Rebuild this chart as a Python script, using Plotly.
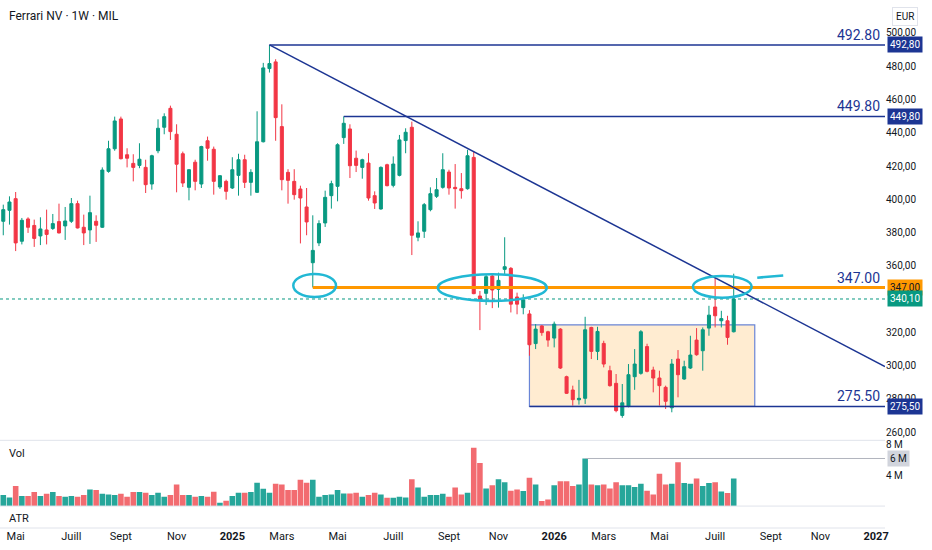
import pandas as pd
import plotly.graph_objects as go
from plotly.subplots import make_subplots

# weekly candles, first bar = week of 2024-04-15
first_week = '2024-04-15'
opens = [386.8, 393.4, 400.4, 374.8, 388.2, 384.3, 378.0, 381.6, 382.5, 386.6,
         384.0, 386.8, 397.4, 383.2, 381.6, 386.8, 383.2, 416.8, 430.4, 448.3,
         426.8, 421.6, 420.4, 419.2, 409.2, 429.2, 443.3, 454.7, 439.1, 427.4,
         407.2, 422.3, 409.2, 435.2, 430.1, 407.4, 410.8, 406.8, 414.4, 423.8,
         410.2, 404.2, 434.6, 478.6, 482.6, 443.7, 416.2, 410.8, 406.2, 395.4,
         361.9, 373.8, 385.8, 402.2, 407.8, 437.1, 442.3, 424.7, 419.2, 421.8,
         402.2, 394.2, 420.8, 408.4, 414.4, 435.3, 443.3, 377.2, 380.8, 393.8,
         401.8, 407.2, 416.4, 407.2, 406.4, 406.4, 425.2, 341.9, 343.5, 353.9,
         345.9, 357.9, 358.5, 341.3, 334.9, 331.1, 313.3, 323.9, 320.4, 316.6,
         322.0, 293.4, 285.4, 279.5, 280.4, 323.0, 308.6, 313.4, 297.0, 289.4,
         270.1, 275.5, 293.4, 295.4, 311.5, 297.4, 292.6, 287.0, 274.7, 304.0,
         292.0, 298.6, 315.4, 309.0, 322.6, 335.3, 327.0, 327.0, 320.4]
highs = [396.8, 401.8, 404.4, 388.8, 389.2, 387.8, 389.2, 393.8, 391.2, 397.4,
         395.4, 400.8, 399.2, 390.8, 402.2, 390.4, 419.2, 435.2, 449.7, 449.7,
         430.7, 427.1, 433.7, 423.8, 426.8, 448.1, 451.7, 456.3, 445.1, 428.7,
         418.1, 423.8, 432.2, 437.7, 431.7, 414.5, 411.8, 425.3, 427.4, 426.8,
         418.1, 452.9, 482.0, 492.8, 484.2, 457.1, 418.1, 418.1, 408.2, 406.8,
         390.4, 387.4, 405.2, 411.2, 433.7, 449.8, 445.1, 429.3, 424.4, 427.7,
         404.8, 419.8, 421.4, 425.8, 438.7, 442.7, 446.7, 386.8, 397.8, 407.2,
         412.8, 427.7, 417.8, 421.2, 415.8, 429.8, 428.7, 344.9, 355.0, 355.0,
         355.9, 377.2, 359.3, 343.9, 342.9, 333.4, 325.0, 324.4, 321.0, 326.5,
         322.6, 294.0, 288.0, 291.5, 329.4, 323.4, 323.4, 315.0, 300.0, 295.0,
         289.0, 301.0, 310.0, 321.4, 313.2, 299.4, 297.0, 288.0, 304.0, 309.4,
         303.0, 318.0, 322.6, 323.0, 336.0, 352.9, 333.0, 330.0, 355.3]
lows = [378.4, 384.8, 368.9, 372.9, 379.8, 371.4, 372.5, 372.9, 381.6, 379.5,
        375.6, 385.8, 382.5, 372.5, 373.2, 374.4, 382.8, 416.0, 429.2, 424.0,
        419.2, 410.8, 418.7, 403.8, 405.8, 427.7, 439.1, 435.7, 404.2, 407.4,
        399.4, 405.4, 406.8, 423.2, 402.8, 406.2, 399.8, 406.2, 402.2, 406.8,
        402.2, 403.8, 434.2, 476.2, 435.2, 405.4, 397.4, 399.8, 373.5, 378.4,
        347.0, 371.9, 383.4, 394.4, 398.8, 433.3, 412.8, 416.4, 412.4, 399.2,
        394.2, 393.8, 407.8, 407.2, 413.8, 427.7, 366.5, 374.8, 376.8, 392.8,
        400.8, 406.4, 402.8, 394.4, 400.4, 405.8, 343.0, 321.4, 336.5, 334.6,
        334.9, 355.0, 332.0, 330.9, 330.9, 306.0, 310.0, 318.0, 311.4, 311.0,
        298.0, 283.0, 276.0, 276.6, 277.0, 304.0, 303.4, 299.0, 287.4, 272.0,
        268.7, 275.0, 285.5, 294.6, 296.0, 284.0, 276.0, 274.0, 272.0, 281.0,
        291.5, 298.0, 306.0, 297.0, 318.0, 323.0, 323.0, 312.6, 320.0]
closes = [393.8, 398.4, 373.8, 387.4, 383.2, 376.5, 382.2, 378.9, 385.4, 379.8,
          387.0, 397.4, 382.8, 379.8, 392.0, 384.4, 417.6, 430.4, 447.1, 424.4,
          424.7, 419.2, 424.1, 408.8, 426.2, 442.7, 449.7, 440.7, 421.1, 409.8,
          417.8, 410.8, 431.7, 430.7, 410.8, 414.2, 404.8, 417.8, 423.8, 410.2,
          416.2, 434.6, 479.0, 481.6, 449.1, 411.8, 411.4, 402.8, 400.8, 386.4,
          369.3, 385.4, 401.2, 409.4, 432.8, 445.7, 420.2, 420.4, 423.8, 400.8,
          397.8, 419.2, 408.2, 421.2, 435.7, 440.3, 378.4, 379.8, 396.8, 403.4,
          405.8, 417.8, 406.8, 406.4, 405.2, 426.2, 343.3, 339.5, 353.5, 345.5,
          351.3, 359.5, 337.0, 337.0, 339.5, 312.6, 322.0, 319.9, 315.4, 325.0,
          298.6, 283.4, 279.6, 280.4, 321.6, 308.6, 320.6, 301.0, 288.0, 273.0,
          277.7, 294.6, 301.0, 320.4, 296.6, 292.6, 288.0, 278.6, 301.0, 294.6,
          299.4, 306.4, 306.6, 321.6, 330.4, 330.0, 328.3, 317.0, 340.1]
volume_m = [1.43, 1.13, 2.6, 1.3, 1.3, 1.82, 1.3, 1.6, 1.82, 1.3,
            1.21, 1.3, 1.21, 1.43, 2.16, 2.08, 1.6, 1.52, 1.43, 1.6,
            1.21, 1.82, 1.82, 1.73, 1.43, 1.73, 1.21, 1.43, 2.81, 1.43,
            1.43, 1.21, 1.3, 1.21, 1.86, 0.43, 0.69, 1.3, 1.73, 1.73,
            1.82, 3.03, 2.25, 1.73, 2.9, 2.81, 2.08, 2.08, 3.42, 3.03,
            3.42, 1.21, 1.43, 1.52, 2.08, 1.65, 1.65, 1.73, 1.21, 1.43,
            1.73, 1.52, 1.08, 1.08, 1.21, 1.13, 3.5, 2.42, 1.21, 1.43,
            1.43, 1.6, 1.21, 2.42, 1.52, 1.73, 7.6, 5.6, 2.3, 2.7,
            3.5, 3.1, 2.0, 2.16, 1.95, 3.7, 2.8, 0.65, 0.87, 2.7,
            3.25, 3.25, 2.6, 2.8, 6.2, 2.8, 2.7, 2.8, 2.3, 3.1,
            2.7, 2.7, 2.5, 2.9, 2.0, 1.5, 4.2, 2.8, 2.9, 5.7,
            3.0, 2.9, 3.6, 2.6, 3.0, 3.1, 1.9, 1.7, 3.6]

# drawn levels
top_level = 492.80
mid_level = 449.80
support_level = 347.00
low_level = 275.50
last_price = 340.10
box_top = 324.6
trend_end = 299.5
vol_ray = 6.2

month_names = {3: 'Mars', 5: 'Mai', 7: 'Juill', 9: 'Sept', 11: 'Nov'}

GREEN = '#089981'
RED = '#f23645'
NAVY = '#1c3593'
CYAN = '#22b8d4'
TXT = '#131722'

start = pd.Timestamp(first_week)
dates = pd.date_range(start, periods=len(closes), freq='7D')


def at(i):
    # date of (fractional, 1-based) bar position
    return (start + pd.Timedelta(weeks=i - 1)).strftime('%Y-%m-%d %H:%M')


x_left, x_right = at(0.47), at(143.44)

fig = make_subplots(rows=3, cols=1, shared_xaxes=True, vertical_spacing=0)

fig.add_trace(go.Candlestick(
    x=dates, open=opens, high=highs, low=lows, close=closes,
    increasing=dict(line=dict(color=GREEN, width=1), fillcolor=GREEN),
    decreasing=dict(line=dict(color=RED, width=1), fillcolor=RED),
    whiskerwidth=0, showlegend=False, hoverinfo='skip'), row=1, col=1)

vol_colors = ['#26a69a' if c >= o else '#f26b70' for o, c in zip(opens, closes)]
fig.add_trace(go.Bar(x=dates, y=volume_m, marker_color=vol_colors,
                     marker_line_width=0, showlegend=False, hoverinfo='skip'),
              row=2, col=1)
fig.add_trace(go.Scatter(x=[x_left, x_right], y=[0, 0], mode='lines',
                         line=dict(width=0), showlegend=False, hoverinfo='skip'),
              row=3, col=1)

# tick positions: Monday of the week holding each month start
tickvals, ticktext = [], []
for m in pd.date_range('2024-05-01', '2027-01-01', freq='2MS'):
    monday = m - pd.Timedelta(days=m.weekday())
    tickvals.append(monday)
    ticktext.append(f'<b>{m.year}</b>' if m.month == 1 else month_names[m.month])

shapes = []
# horizontal rays
for lvl, i0, col, w in [(top_level, 44, NAVY, 1.5), (mid_level, 56, NAVY, 1.5),
                        (low_level, 86, NAVY, 1.5), (support_level, 51, '#ff9800', 3)]:
    shapes.append(dict(type='line', xref='x', yref='y', x0=at(i0), x1=x_right,
                       y0=lvl, y1=lvl, line=dict(color=col, width=w)))
# last price dotted
shapes.append(dict(type='line', xref='x', yref='y', x0=x_left, x1=x_right,
                   y0=last_price, y1=last_price,
                   line=dict(color=GREEN, width=1, dash='dot')))
# trend line
shapes.append(dict(type='line', xref='x', yref='y', x0=at(44), x1=x_right,
                   y0=top_level, y1=trend_end, line=dict(color=NAVY, width=1.5)))
# range box
shapes.append(dict(type='rect', xref='x', yref='y', x0=at(86), x1=at(122.4),
                   y0=low_level, y1=box_top, fillcolor='rgba(255,152,0,0.18)',
                   line=dict(color='#6a85d6', width=1.2), layer='below'))
# hand drawn circles
for a, b, lo, hi in [(47.85, 54.75, 341.3, 355.1), (71.2, 88.8, 338.9, 354.9),
                     (112.4, 121.9, 340.9, 353.9)]:
    shapes.append(dict(type='circle', xref='x', yref='y', x0=at(a), x1=at(b),
                       y0=lo, y1=hi, line=dict(color=CYAN, width=2.5)))
shapes.append(dict(type='line', xref='x', yref='y', x0=at(122.8), x1=at(127),
                   y0=352.9, y1=354.2, line=dict(color=CYAN, width=2.5)))
# volume ray
shapes.append(dict(type='line', xref='x2', yref='y2', x0=at(95), x1=x_right,
                   y0=vol_ray, y1=vol_ray, line=dict(color='#b2b5be', width=1)))
# pane separators
for yp in [0.1667, 0.0417, 0.0]:
    shapes.append(dict(type='line', xref='paper', yref='paper', x0=0, x1=1,
                       y0=yp, y1=yp, line=dict(color='#e0e3eb', width=1)))

annotations = [
    dict(text='Ferrari NV · 1W · MIL', xref='paper', yref='paper', x=0, y=1,
         xshift=7, yshift=-5, xanchor='left', yanchor='top', showarrow=False,
         font=dict(size=12, color=TXT)),
    dict(text='Vol', xref='paper', yref='paper', x=0, y=0.1648, xshift=7,
         yshift=-4, xanchor='left', yanchor='top', showarrow=False,
         font=dict(size=11, color=TXT)),
    dict(text='ATR', xref='paper', yref='paper', x=0, y=0.0417, xshift=7,
         yshift=-4, xanchor='left', yanchor='top', showarrow=False,
         font=dict(size=11, color=TXT)),
    dict(text='EUR', xref='paper', yref='paper', x=1, y=1, xshift=7, yshift=-5,
         xanchor='left', yanchor='top', showarrow=False, bgcolor='white',
         bordercolor='#e0e3eb', borderwidth=1, borderpad=3,
         font=dict(size=10, color=TXT)),
]
for lvl in [top_level, mid_level, support_level, low_level]:
    annotations.append(dict(text=f'{lvl:.2f}', xref='x', yref='y', x=x_right,
                            y=lvl, xanchor='right', yanchor='bottom', xshift=-3,
                            yshift=0, showarrow=False,
                            font=dict(size=14, color=NAVY)))
for lvl, bg, fg in [(top_level, NAVY, 'white'), (mid_level, NAVY, 'white'),
                    (support_level, '#ff9800', TXT), (last_price, GREEN, 'white'),
                    (low_level, NAVY, 'white')]:
    annotations.append(dict(text=f'{lvl:.2f}'.replace('.', ','), xref='paper',
                            yref='y', x=1, y=lvl, xanchor='left', xshift=2,
                            showarrow=False, bgcolor=bg, borderpad=2,
                            font=dict(size=10, color=fg)))
annotations.append(dict(text='6 M', xref='paper', yref='y2', x=1, y=vol_ray,
                        xanchor='left', xshift=2, showarrow=False,
                        bgcolor='#d1d4dc', borderpad=2,
                        font=dict(size=10, color=TXT)))

price_ticks = [v for v in range(260, 501, 20) if v != 340]

fig.update_layout(
    width=932, height=550, margin=dict(l=0, r=47, t=0, b=22),
    paper_bgcolor='white', plot_bgcolor='white',
    font=dict(family='Roboto, sans-serif', color=TXT),
    shapes=shapes, annotations=annotations, bargap=0.1, hovermode=False,
    yaxis=dict(domain=[0.17, 1.0], range=[256.2, 518.6], side='right',
               tickvals=price_ticks,
               ticktext=[f'{v},00' for v in price_ticks],
               showgrid=False, zeroline=False, tickfont=dict(size=10)),
    yaxis2=dict(domain=[0.0417, 0.1648], range=[0, 8.44], side='right',
                tickvals=[4, 8], ticktext=['4 M', '8 M'], showgrid=False,
                zeroline=False, tickfont=dict(size=10)),
    yaxis3=dict(domain=[0, 0.0417], range=[0, 1], showticklabels=False,
                showgrid=False, zeroline=False),
)
fig.update_xaxes(range=[x_left, x_right], showgrid=False, zeroline=False,
                 rangeslider_visible=False, showticklabels=False)
fig.update_xaxes(showticklabels=True, tickvals=tickvals, ticktext=ticktext,
                 tickfont=dict(size=11, color=TXT), row=3, col=1)

# drop the default page margin so the chart sits at the window corner
fig.write_html('out.html', config={'displayModeBar': False},
               post_script="document.body.style.margin='0';")
